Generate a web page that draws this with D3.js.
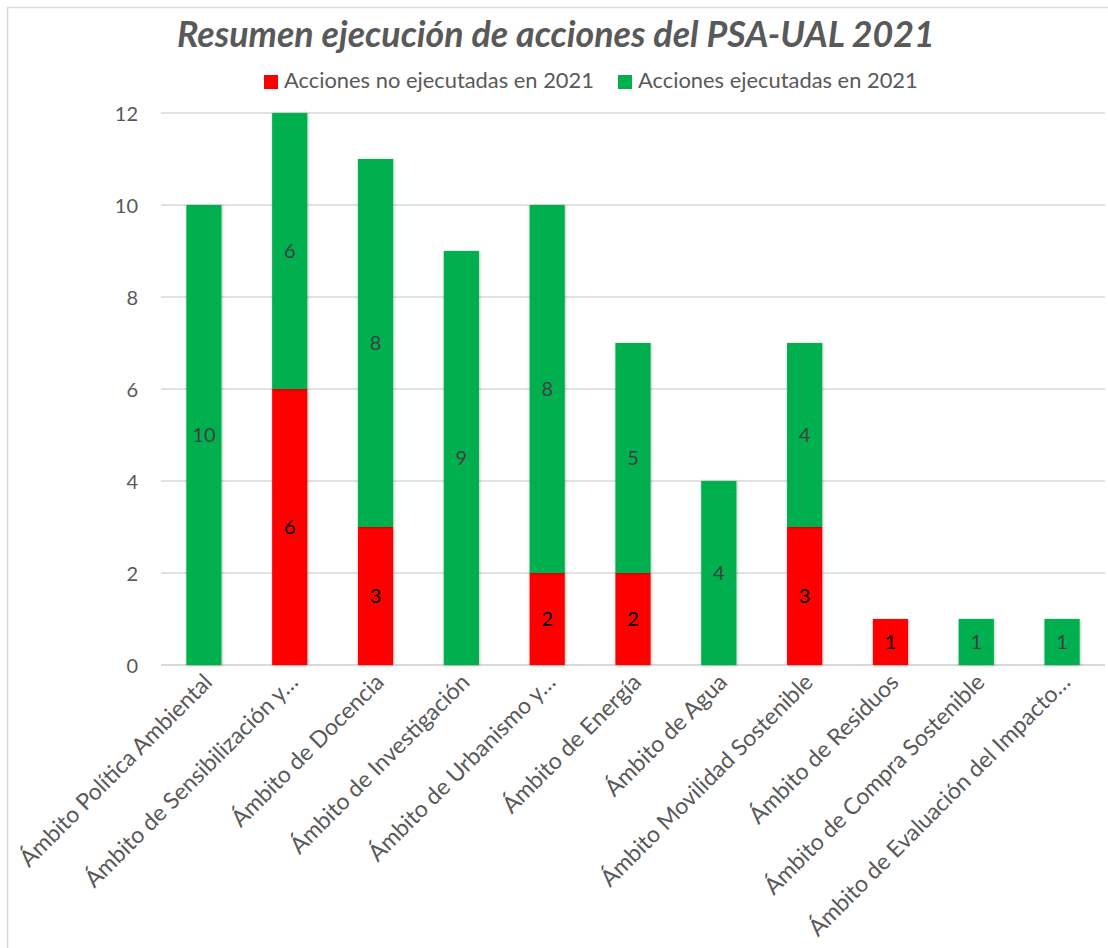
<!DOCTYPE html>
<html>
<head>
<meta charset="utf-8">
<script src="https://cdn.jsdelivr.net/npm/d3@7"></script>
<style>
  body { margin: 0; background: #fff; }
  svg { display: block; }
</style>
</head>
<body>
<div id="chart"></div>
<script>
// Data
const categories = [
  "Ámbito Política Ambiental",
  "Ámbito de Sensibilización y…",
  "Ámbito de Docencia",
  "Ámbito de Investigación",
  "Ámbito de Urbanismo y…",
  "Ámbito de Energía",
  "Ámbito de Agua",
  "Ámbito Movilidad Sostenible",
  "Ámbito de Residuos",
  "Ámbito de Compra Sostenible",
  "Ámbito de Evaluación del Impacto…"
];
const noEjecutadas = [0, 6, 3, 0, 2, 2, 0, 3, 1, 0, 0];
const ejecutadas = [10, 6, 8, 9, 8, 5, 4, 4, 0, 1, 1];
const seriesNames = ["Acciones no ejecutadas en 2021", "Acciones ejecutadas en 2021"];
const yTicks = [0, 2, 4, 6, 8, 10, 12];
const title = "Resumen ejecución de acciones del PSA-UAL 2021";

const width = 1108;
const height = 948;
const font = "Lato, 'Open Sans', sans-serif";
const textColor = "#595959";
const colors = ["#FF0000", "#00B050"];
const labelColors = ["#000000", "#404040"];

const svg = d3.select("#chart").append("svg")
  .attr("width", width)
  .attr("height", height);

// soft shadow under the bars
const defs = svg.append("defs");
defs.append("filter")
  .attr("id", "shadow")
  .attr("x", "-30%").attr("y", "-10%")
  .attr("width", "160%").attr("height", "120%")
  .append("feDropShadow")
  .attr("dx", 0.5).attr("dy", 0.5)
  .attr("stdDeviation", 1.6)
  .attr("flood-color", "#000")
  .attr("flood-opacity", 0.3);

// chart border
svg.append("rect")
  .attr("x", 7.5).attr("y", 7.5)
  .attr("width", 1130).attr("height", 980)
  .attr("fill", "none")
  .attr("stroke", "#d9d9d9")
  .attr("stroke-width", 1.5);

// scale a text's font-size so it matches a measured width
function fitText(sel, target) {
  const w = sel.node().getComputedTextLength();
  const fs = parseFloat(sel.attr("font-size"));
  sel.attr("font-size", fs * target / w);
}

// Scales
const x = d3.scaleBand()
  .domain(categories)
  .range([161, 1105])
  .paddingInner(0.59)
  .paddingOuter(0.295);

const y = d3.scaleLinear()
  .domain([0, 12])
  .range([665, 113]);

// Gridlines
svg.append("g")
  .selectAll("line")
  .data(yTicks)
  .join("line")
  .attr("x1", 161).attr("x2", 1105)
  .attr("y1", (d) => y(d)).attr("y2", (d) => y(d))
  .attr("stroke", "#d9d9d9")
  .attr("stroke-width", (d) => (d === 0 ? 2 : 1.3));

// Y axis labels
const yAxis = d3.axisLeft(y).tickValues(yTicks).tickSize(0).tickPadding(0);
const yg = svg.append("g")
  .attr("transform", "translate(138,0)")
  .call(yAxis);
yg.select(".domain").remove();
yg.selectAll("text")
  .attr("font-family", font)
  .attr("font-size", 20)
  .attr("fill", textColor)
  .attr("dy", "0.35em");

// Stacked bars
const table = categories.map((c, i) => ({
  cat: c,
  no: noEjecutadas[i],
  si: ejecutadas[i]
}));
const stack = d3.stack().keys(["no", "si"])(table);

const layers = svg.append("g")
  .selectAll("g")
  .data(stack)
  .join("g")
  .attr("fill", (d, i) => colors[i]);

layers.selectAll("rect")
  .data((d) => d.filter((s) => s[1] - s[0] > 0))
  .join("rect")
  .attr("x", (d) => x(d.data.cat))
  .attr("y", (d) => y(d[1]))
  .attr("width", x.bandwidth())
  .attr("height", (d) => y(d[0]) - y(d[1]))
  .attr("filter", "url(#shadow)");

// Data labels
stack.forEach((layer, i) => {
  svg.append("g")
    .selectAll("text")
    .data(layer.filter((s) => s[1] - s[0] > 0))
    .join("text")
    .attr("x", (d) => x(d.data.cat) + x.bandwidth() / 2)
    .attr("y", (d) => y((d[0] + d[1]) / 2))
    .attr("dy", "0.35em")
    .attr("text-anchor", "middle")
    .attr("font-family", font)
    .attr("font-size", 20)
    .attr("fill", labelColors[i])
    .text((d) => d[1] - d[0]);
});

// X axis labels, rotated
const xLabels = svg.append("g")
  .selectAll("text")
  .data(categories)
  .join("text")
  .attr("transform", (d) => {
    const cx = x(d) + x.bandwidth() / 2 + 4;
    return `translate(${cx},${678}) rotate(-45)`;
  })
  .attr("text-anchor", "end")
  .attr("dy", "0.35em")
  .attr("font-family", font)
  .attr("font-size", 20)
  .attr("fill", textColor)
  .text((d) => d);
fitText(d3.select(xLabels.nodes()[0]), 261);
const xfs = d3.select(xLabels.nodes()[0]).attr("font-size");
xLabels.attr("font-size", xfs);

// Title
const t = svg.append("text")
  .attr("x", 177)
  .attr("y", 47)
  .attr("font-family", font)
  .attr("font-size", 34)
  .attr("font-weight", "bold")
  .attr("font-style", "italic")
  .attr("fill", textColor)
  .text(title);
fitText(t, 758);

// Legend
const legendX = [264, 618];
const legendW = [310, 280];
seriesNames.forEach((name, i) => {
  svg.append("rect")
    .attr("x", legendX[i]).attr("y", 75)
    .attr("width", 14).attr("height", 14)
    .attr("fill", colors[i]);
  const lt = svg.append("text")
    .attr("x", legendX[i] + 20)
    .attr("y", 88)
    .attr("font-family", font)
    .attr("font-size", 20)
    .attr("fill", textColor)
    .text(name);
  fitText(lt, legendW[i]);
});
</script>
</body>
</html>
